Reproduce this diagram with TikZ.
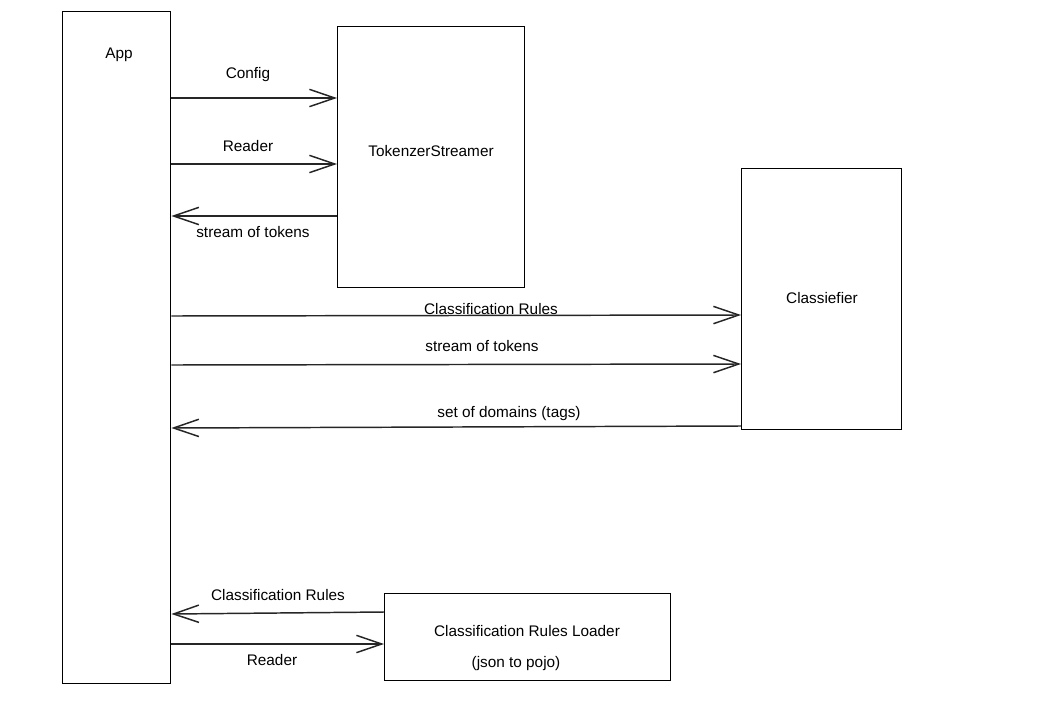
\documentclass[tikz,border=0pt]{standalone}
\usepackage{fontspec}
\setmainfont{Liberation Sans}
\usetikzlibrary{arrows.meta,positioning,calc}

\tikzset{
    block/.style = {draw, line width=1pt, rectangle, inner sep=0pt, anchor=north west},
    flow/.style  = {->, line width=1.1pt, draw=black!85},
    lbl/.style   = {inner sep=1pt, font=\fontsize{11.5}{13}\selectfont}
}

\begin{document}
\begin{tikzpicture}[x=0.75pt,y=-0.75pt,
        > = {Straight Barb[length=19pt,width=13pt]}
    ]
    \useasboundingbox (0,0) rectangle (1044,713);
    % Blocks
    \node[block,minimum width=108*0.75pt,minimum height=672*0.75pt] (app) at (62,11) {};
        \node[lbl] (appname) at (119,55) {App};
    \node[block,minimum width=187*0.75pt,minimum height=261*0.75pt] (tok) at (337,26) {};
        \node[lbl] (tokname) at (431,151) {TokenzerStreamer};
    \node[block,minimum width=160*0.75pt,minimum height=261*0.75pt] (cls) at (741,168) {};
        \node[lbl] (clsname) at (822,298) {Classiefier};
    \node[block,minimum width=286*0.75pt,minimum height=87*0.75pt] (ldr) at (384,593) {};
        \node[lbl] (ldrname) at (527,631) {Classification Rules Loader};
        \node[lbl] (ldrnote) at (516,664) {(json to pojo)};
    % App <-> TokenzerStreamer
    \draw[flow] (app.east |- 0,98) -- (tok.west |- 0,98);
        \node[lbl] at (248,75) {Config};
    \draw[flow] (app.east |- 0,164) -- (tok.west |- 0,164);
        \node[lbl] at (248,146) {Reader};
    \draw[flow] (tok.west |- 0,216) -- (app.east |- 0,216);
        \node[lbl] at (253,232) {stream of tokens};
    % App <-> Classiefier
    \draw[flow] (app.east |- 0,316) -- (cls.west |- 0,315);
        \node[lbl] at (491,309) {Classification Rules};
    \draw[flow] (app.east |- 0,365) -- (cls.west |- 0,364);
        \node[lbl] at (482,346) {stream of tokens};
    \draw[flow] (cls.west |- 0,426) -- (app.east |- 0,428);
        \node[lbl] at (509,414) {set of domains (tags)};
    % App <-> Classification Rules Loader
    \draw[flow] (ldr.west |- 0,612) -- (app.east |- 0,614);
        \node[lbl] at (278,595) {Classification Rules};
    \draw[flow] (app.east |- 0,644) -- (ldr.west |- 0,644);
        \node[lbl] at (272,660) {Reader};
\end{tikzpicture}
\end{document}
